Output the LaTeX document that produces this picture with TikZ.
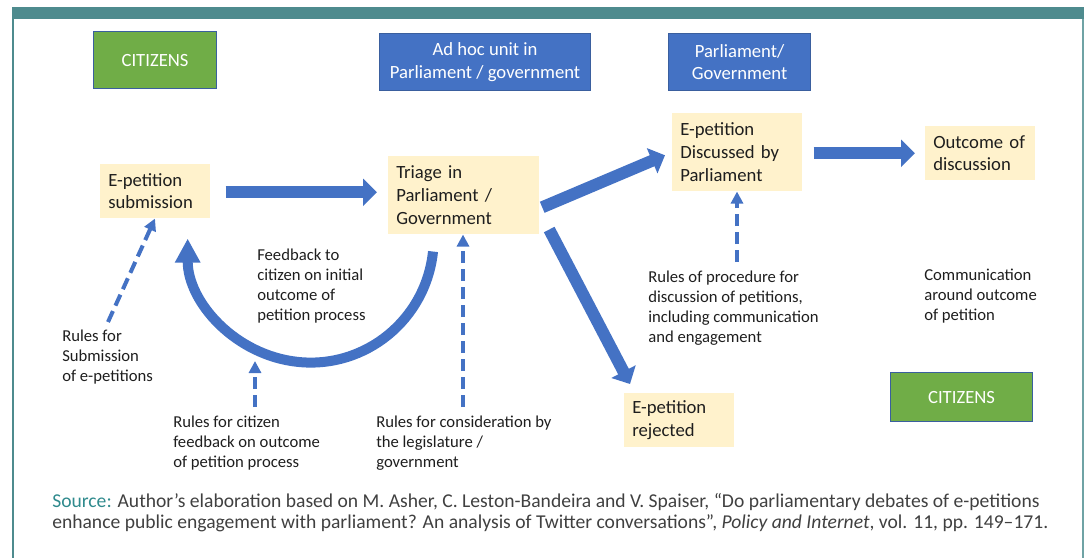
\documentclass[tikz,border=0pt]{standalone}
\usepackage{fontspec}
\setmainfont{Carlito}
\usetikzlibrary{arrows.meta,calc}
\definecolor{arrblue}{HTML}{4472C4}
\definecolor{boxblue}{HTML}{4472C4}
\definecolor{boxline}{HTML}{3A5F9E}
\definecolor{citgreen}{HTML}{70AD47}
\definecolor{petyellow}{HTML}{FFF2CC}
\definecolor{tealbar}{HTML}{4E8B8E}
\definecolor{frameline}{HTML}{6FA3A5}
\definecolor{srcteal}{HTML}{2F8A8D}
\definecolor{txt}{HTML}{1E1E1E}
\begin{document}
\begin{tikzpicture}[x=0.75pt,y=-0.75pt,
  hdr/.style={draw=boxline,line width=0.8pt,text=white,anchor=north west,inner sep=0pt,
    minimum height=42.75pt,align=center,font=\fontsize{14}{17}\selectfont},
  pet/.style={fill=petyellow,anchor=north west,inner xsep=6pt,inner ysep=0pt,align=left,
    text=txt,font=\fontsize{14}{17}\selectfont},
  note/.style={anchor=north west,inner sep=0pt,align=left,text=txt,
    font=\fontsize{12.5}{15}\selectfont,execute at begin node=\strut},
  bigarr/.style={draw=arrblue,line width=9pt,-{Triangle[width=20pt,length=10.5pt]}},
  fbarr/.style={draw=arrblue,line width=7.5pt,-{Triangle[width=18pt,length=18pt]}},
  rulearr/.style={draw=arrblue,line width=3pt,dash pattern=on 9pt off 4.5pt,-{Triangle[width=9pt,length=9pt]}}]
\useasboundingbox (0,0) rectangle (1084,558);
% frame
\fill[tealbar] (12,7) rectangle (1084,19);
\draw[tealbar,line width=1.2pt] (12.7,19) -- (12.7,558);
\draw[frameline,line width=1pt] (1083,19) -- (1083,558);
% actors
\node[hdr,fill=citgreen,minimum width=92.25pt] (cit1) at (93,31) {CITIZENS};
\node[hdr,fill=boxblue,minimum width=158.25pt] (unit) at (379,33) {Ad hoc unit in\\Parliament / government};
\node[hdr,fill=boxblue,minimum width=106.5pt] (parl) at (668,33) {Parliament/\\Government};
\node[hdr,fill=citgreen,minimum width=106.5pt,minimum height=36.75pt] (cit2) at (890,372) {CITIZENS};
% stages
\node[pet,text width=70.5pt,minimum height=40.5pt] (sub) at (100,164) {E-petition\\submission};
\node[pet,text width=101pt,minimum height=58.5pt] (tri) at (388,156) {Triage in\\Parliament /\\Government};
\node[pet,text width=85.5pt,minimum height=58.5pt] (dis) at (672,113) {E-petition\\Discussed by\\Parliament};
\node[pet,text width=70.5pt,minimum height=40.5pt] (out) at (925,126) {Outcome of\\discussion};
\node[pet,text width=70.5pt,minimum height=40.5pt] (rej) at (624,393) {E-petition\\rejected};
% rules
\node[note] (rsub) at (62,330) {Rules for\\Submission\\of e-petitions};
\node[note] (fbk) at (257,249) {Feedback to\\citizen on initial\\outcome of\\petition process};
\node[note] (rfbk) at (173,416) {Rules for citizen\\feedback on outcome\\of petition process};
\node[note] (rcon) at (376,416) {Rules for consideration by\\the legislature /\\government};
\node[note] (rproc) at (648,271) {Rules of procedure for\\discussion of petitions,\\including communication\\and engagement};
\node[note] (comm) at (924,269) {Communication\\around outcome\\of petition};
% flow
\draw[bigarr] ($(sub.east)+(15,1)$) -- ($(sub.east -| tri.west)+(-11,1)$);
\draw[bigarr] ($(tri.east)+(3,12)$) -- ($(dis.west)+(-7,3)$);
\draw[bigarr] ($(tri.south east)+(10,-5)$) -- ($(rej.north west)+(6,-9)$);
\draw[bigarr] ($(dis.east)+(11,1)$) -- ($(dis.east -| out.west)+(-10,1)$);
\draw[fbarr] ($(tri.south west)+(45,17)$) arc[start angle=6,end angle=180,x radius=123,y radius=124];
% rule arrows
\coordinate (t1) at (108,322);
\coordinate (t2) at (255,407);
\coordinate (h2) at (255,361);
\coordinate (t3) at (463,407);
\coordinate (t4) at (737,262);
\draw[rulearr] (t1) -- ($(sub.south west)+(55,0)$);
\draw[rulearr] (t2) -- (h2);
\draw[rulearr] (t3) -- (t3 |- tri.south);
\draw[rulearr] (t4) -- (t4 |- dis.south);
% source
\node[anchor=north west,inner sep=0pt,align=left,text=txt!85,font=\fontsize{14.7}{15.75}\selectfont,
  execute at begin node=\strut] (source) at (52,493)
  {\textcolor{srcteal}{Source:} Author’s elaboration based on M. Asher, C. Leston-Bandeira and V. Spaiser, “Do parliamentary debates of e-petitions\\
   enhance public engagement with parliament? An analysis of Twitter conversations”, \textit{Policy and Internet}, vol. 11, pp. 149–171.};
\end{tikzpicture}
\end{document}
